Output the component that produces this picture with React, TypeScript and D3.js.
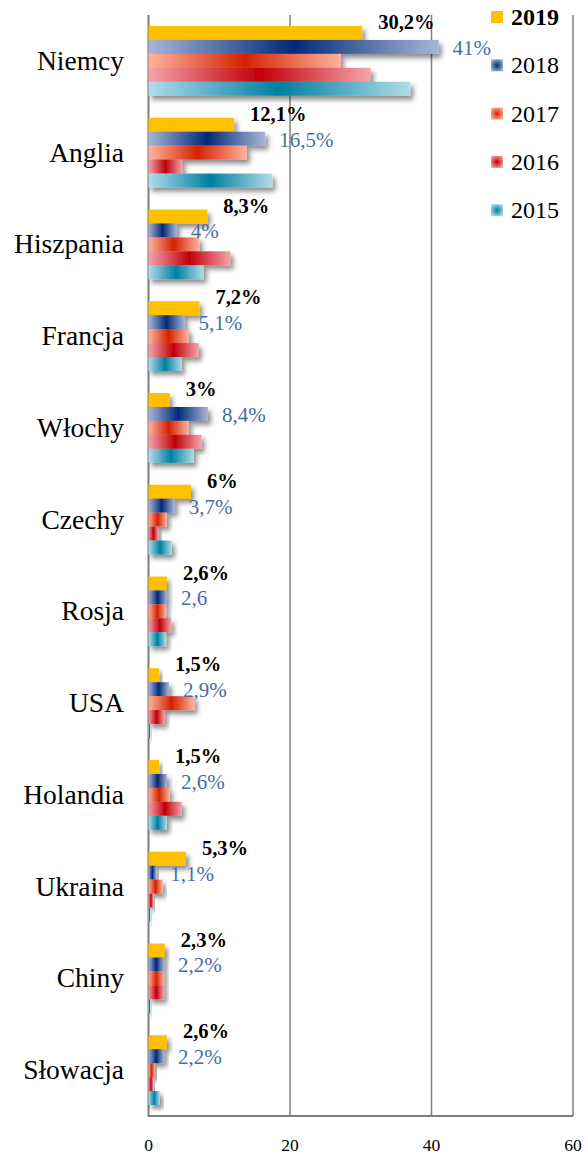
import React from "react";
import * as d3 from "d3";

const categories = ["Niemcy", "Anglia", "Hiszpania", "Francja", "Włochy", "Czechy", "Rosja", "USA", "Holandia", "Ukraina", "Chiny", "Słowacja"];
const seriesNames = ["2019", "2018", "2017", "2016", "2015"];
const v2019 = [30.2, 12.1, 8.3, 7.2, 3, 6, 2.6, 1.5, 1.5, 5.3, 2.3, 2.6];
const v2018 = [41, 16.5, 4, 5.1, 8.4, 3.7, 2.6, 2.9, 2.6, 1.1, 2.2, 2.2];
const v2017 = [27.2, 13.9, 7.2, 5.7, 5.7, 2.6, 2.5, 6.5, 3.0, 2.0, 2.2, 0.9];
const v2016 = [31.4, 4.8, 11.6, 7.1, 7.5, 1.4, 3.2, 2.3, 4.7, 0.7, 2.2, 0.7];
const v2015 = [37, 17.5, 7.8, 4.7, 6.4, 3.3, 2.5, 0.3, 2.6, 0.3, 0.3, 1.6];
const labels2019 = ["30,2%", "12,1%", "8,3%", "7,2%", "3%", "6%", "2,6%", "1,5%", "1,5%", "5,3%", "2,3%", "2,6%"];
const labels2018 = ["41%", "16,5%", "4%", "5,1%", "8,4%", "3,7%", "2,6", "2,9%", "2,6%", "1,1%", "2,2%", "2,2%"];
const xTicks = [0, 20, 40, 60];

const seriesValues = [v2019, v2018, v2017, v2016, v2015];

// gradient colours: [edge, center]
const gradColors: Record<string, [string, string] | null> = {
  "2019": null,
  "2018": ["#a9b5d6", "#002a78"],
  "2017": ["#ffb39f", "#d42200"],
  "2016": ["#f5a3ab", "#c00008"],
  "2015": ["#b1dcea", "#007fa0"],
};

export default function App() {
  const W = 588, H = 1156;
  const x0 = 148.5;
  const x = d3.scaleLinear().domain([0, 60]).range([x0, x0 + 424.5]);
  const y = d3.scaleBand<string>().domain(categories).range([15, 1116]).paddingInner(0.24).paddingOuter(0.12);
  const ys = d3.scaleBand<string>().domain(seriesNames).range([0, y.bandwidth()]);
  const font = "'Liberation Serif', 'DejaVu Serif', serif";
  const fill = (s: string) => (gradColors[s] ? `url(#g${s})` : "#ffc000");

  return (
    <svg width={W} height={H} style={{ position: "absolute", left: 0, top: 0 }} fontFamily={font}>
      <defs>
        {seriesNames.map((s) => {
          const c = gradColors[s];
          if (!c) return null;
          return (
            <React.Fragment key={s}>
              <linearGradient id={`g${s}`} x1="0" y1="0" x2="1" y2="0">
                <stop offset="0" stopColor={c[0]} />
                <stop offset="0.5" stopColor={c[1]} />
                <stop offset="1" stopColor={c[0]} />
              </linearGradient>
              <radialGradient id={`r${s}`} cx="0.5" cy="0.5" r="0.6">
                <stop offset="0" stopColor={c[1]} />
                <stop offset="1" stopColor={c[0]} />
              </radialGradient>
            </React.Fragment>
          );
        })}
        <filter id="shadow" x="-20%" y="-50%" width="150%" height="250%">
          <feDropShadow dx="3" dy="4" stdDeviation="2.5" floodColor="#000" floodOpacity="0.45" />
        </filter>
      </defs>

      {/* grid lines */}
      {xTicks.slice(1).map((t) => (
        <line key={t} x1={x(t)} x2={x(t)} y1={15} y2={1116} stroke="#7f7f7f" strokeWidth={1.5} />
      ))}
      <line x1={x(0)} x2={x(0)} y1={15} y2={1117} stroke="#7f7f7f" strokeWidth={2} />
      <line x1={x(0)} x2={x(60)} y1={1116} y2={1116} stroke="#7f7f7f" strokeWidth={2} />

      {/* bars */}
      {categories.map((cat, i) => (
        <g key={cat} transform={`translate(0,${y(cat)})`}>
          {seriesNames.map((s, j) => (
            <rect
              key={s}
              x={x(0)}
              y={ys(s)}
              width={x(seriesValues[j][i]) - x(0)}
              height={ys.bandwidth()}
              fill={fill(s)}
              filter="url(#shadow)"
            />
          ))}
        </g>
      ))}

      {/* data labels */}
      {categories.map((cat, i) => {
        const by = y(cat)!;
        return (
          <g key={cat}>
            <text x={x(v2019[i]) + 16} y={by + ys("2019")! + 3} fontSize={20.5} fontWeight="bold" fill="#000">
              {labels2019[i]}
            </text>
            <text x={x(v2018[i]) + 14} y={by + ys("2018")! + ys.bandwidth() / 2 + 8} fontSize={21} fill="#4a6ca6">
              {labels2018[i]}
            </text>
          </g>
        );
      })}

      {/* category labels */}
      {categories.map((cat) => (
        <text key={cat} x={124} y={y(cat)! + y.bandwidth() / 2 + 9} textAnchor="end" fontSize={27.5} fill="#000">
          {cat}
        </text>
      ))}

      {/* x tick labels */}
      {xTicks.map((t) => (
        <text key={t} x={x(t)} y={1151} textAnchor="middle" fontSize={17.5} fill="#000">
          {t}
        </text>
      ))}

      {/* legend */}
      {seriesNames.map((s, k) => {
        const cy = 17 + k * 48.3;
        return (
          <g key={s}>
            <rect x={491} y={cy - 6} width={12} height={12} fill={gradColors[s] ? `url(#r${s})` : "#ffc000"} />
            <text x={511} y={cy + 8} fontSize={24} fontWeight={s === "2019" ? "bold" : "normal"} fill="#000">
              {s}
            </text>
          </g>
        );
      })}
    </svg>
  );
}
